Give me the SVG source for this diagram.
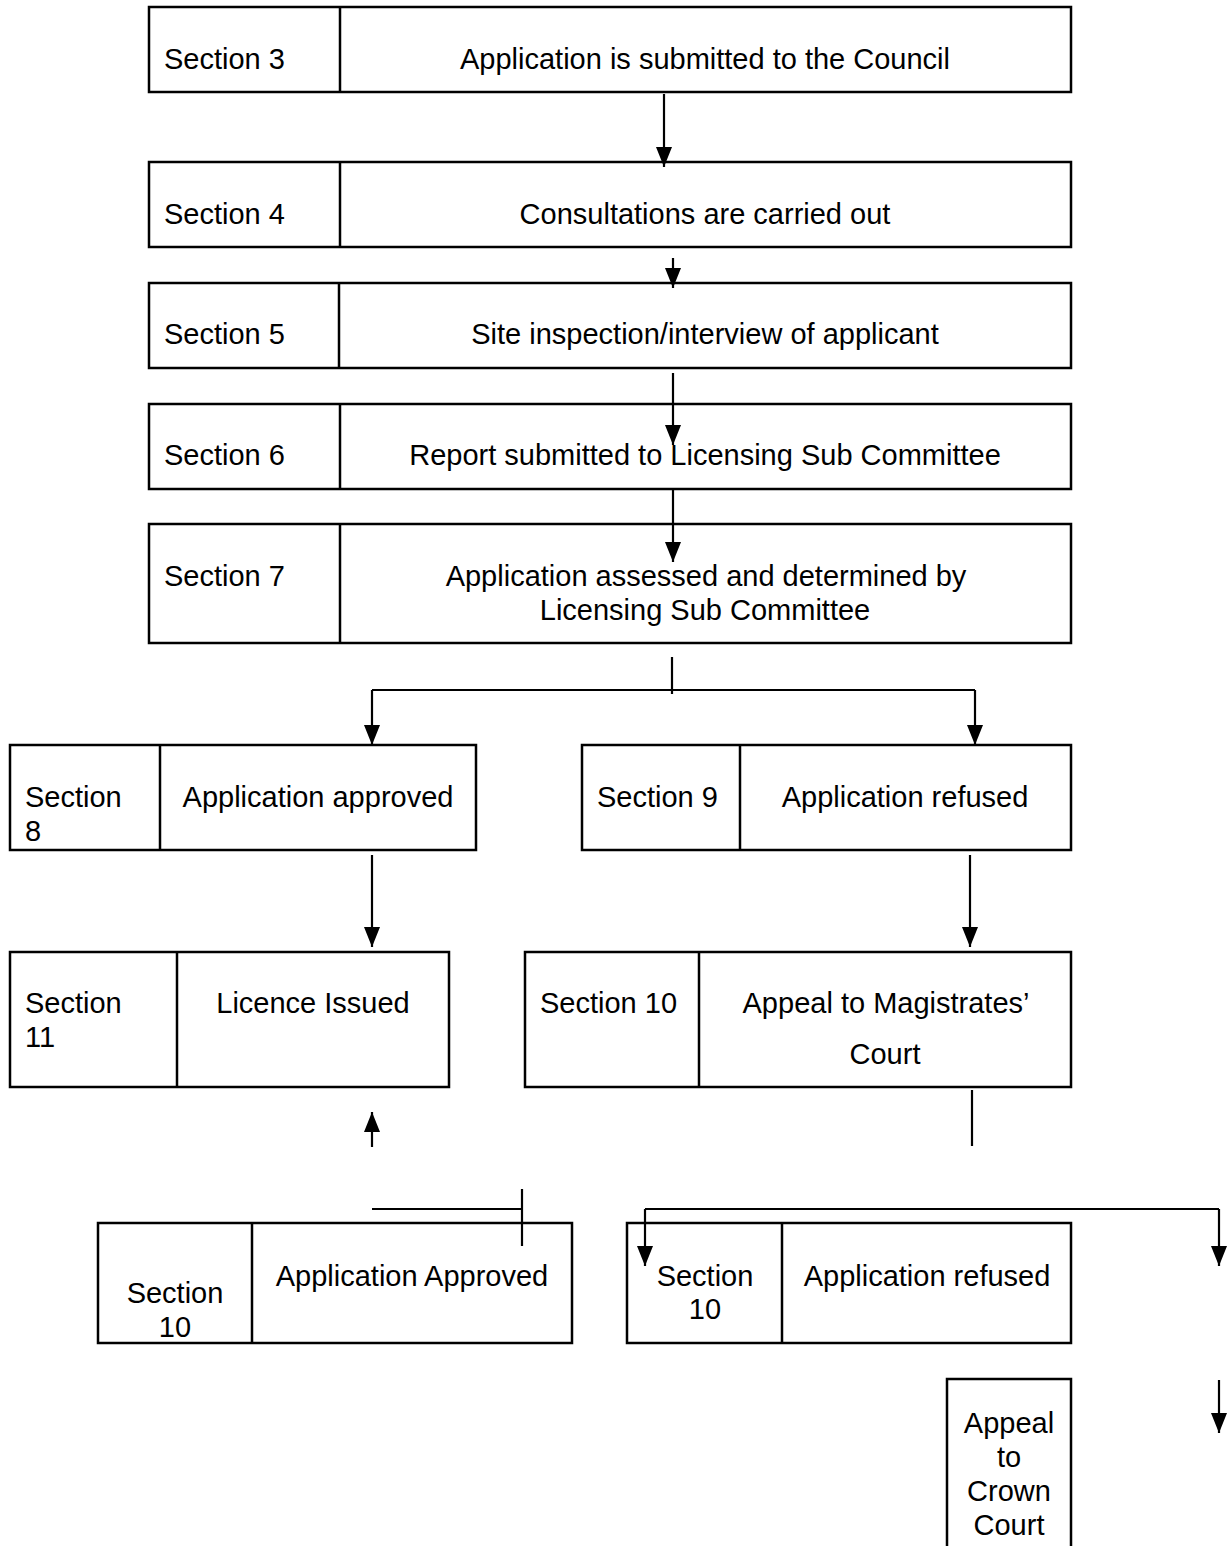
<svg xmlns="http://www.w3.org/2000/svg" width="1227" height="1546" viewBox="0 0 1227 1546">
<style>
rect.box{fill:#fff;stroke:#000;stroke-width:2.5}
line.div{stroke:#000;stroke-width:2.5}
text{font-family:"Liberation Sans",Arial,sans-serif;font-size:29px;fill:#000}
.c{text-anchor:middle}
#connectors line{stroke:#000;stroke-width:2.2}
</style>
<defs>
<marker id="ahd" viewBox="0 0 20 16" refX="20" refY="8" markerWidth="20" markerHeight="16" markerUnits="userSpaceOnUse" orient="auto">
<path d="M0,0 L20,8 L0,16 z" fill="#000"/>
</marker>
</defs>

<g id="n3">
<rect class="box" x="149" y="7" width="922" height="85"/>
<line class="div" x1="340" y1="7" x2="340" y2="92"/>
<text x="164" y="69">Section 3</text>
<text class="c" x="705" y="69">Application is submitted to the Council</text>
</g>

<g id="n4">
<rect class="box" x="149" y="162" width="922" height="85"/>
<line class="div" x1="340" y1="162" x2="340" y2="247"/>
<text x="164" y="224">Section 4</text>
<text class="c" x="705" y="224">Consultations are carried out</text>
</g>

<g id="n5">
<rect class="box" x="149" y="283" width="922" height="85"/>
<line class="div" x1="339" y1="283" x2="339" y2="368"/>
<text x="164" y="344">Section 5</text>
<text class="c" x="705" y="344">Site inspection/interview of applicant</text>
</g>

<g id="n6">
<rect class="box" x="149" y="404" width="922" height="85"/>
<line class="div" x1="340" y1="404" x2="340" y2="489"/>
<text x="164" y="465">Section 6</text>
<text class="c" x="705" y="465">Report submitted to Licensing Sub Committee</text>
</g>

<g id="n7">
<rect class="box" x="149" y="524" width="922" height="119"/>
<line class="div" x1="340" y1="524" x2="340" y2="643"/>
<text x="164" y="586">Section 7</text>
<text class="c" x="706" y="586">Application assessed and determined by</text>
<text class="c" x="705" y="620">Licensing Sub Committee</text>
</g>

<g id="n8">
<rect class="box" x="10" y="745" width="466" height="105"/>
<line class="div" x1="160" y1="745" x2="160" y2="850"/>
<text x="25" y="807">Section</text>
<text x="25" y="841">8</text>
<text class="c" x="318" y="807">Application approved</text>
</g>

<g id="n9">
<rect class="box" x="582" y="745" width="489" height="105"/>
<line class="div" x1="740" y1="745" x2="740" y2="850"/>
<text x="597" y="807">Section 9</text>
<text class="c" x="905" y="807">Application refused</text>
</g>

<g id="n11">
<rect class="box" x="10" y="952" width="439" height="135"/>
<line class="div" x1="177" y1="952" x2="177" y2="1087"/>
<text x="25" y="1013">Section</text>
<text x="25" y="1047">11</text>
<text class="c" x="313" y="1013">Licence Issued</text>
</g>

<g id="n10appeal">
<rect class="box" x="525" y="952" width="546" height="135"/>
<line class="div" x1="699" y1="952" x2="699" y2="1087"/>
<text x="540" y="1013">Section 10</text>
<text class="c" x="886" y="1013">Appeal to Magistrates’</text>
<text class="c" x="885" y="1064">Court</text>
</g>

<g id="n10approved">
<rect class="box" x="98" y="1223" width="474" height="120"/>
<line class="div" x1="252" y1="1223" x2="252" y2="1343"/>
<text class="c" x="175" y="1303">Section</text>
<text class="c" x="175" y="1337">10</text>
<text class="c" x="412" y="1286">Application Approved</text>
</g>

<g id="n10refused">
<rect class="box" x="627" y="1223" width="444" height="120"/>
<line class="div" x1="782" y1="1223" x2="782" y2="1343"/>
<text class="c" x="705" y="1286">Section</text>
<text class="c" x="705" y="1319">10</text>
<text class="c" x="927" y="1286">Application refused</text>
</g>

<g id="ncrown">
<rect class="box" x="947" y="1379" width="124" height="180"/>
<text class="c" x="1009" y="1433">Appeal</text>
<text class="c" x="1009" y="1467">to</text>
<text class="c" x="1009" y="1501">Crown</text>
<text class="c" x="1009" y="1535">Court</text>
</g>

<g id="connectors">
<line x1="664" y1="94" x2="664" y2="167" marker-end="url(#ahd)"/>
<line x1="673" y1="258" x2="673" y2="288" marker-end="url(#ahd)"/>
<line x1="673" y1="373" x2="673" y2="445" marker-end="url(#ahd)"/>
<line x1="673" y1="489" x2="673" y2="562" marker-end="url(#ahd)"/>
<line x1="672" y1="657" x2="672" y2="694"/>
<line x1="372" y1="690" x2="975" y2="690"/>
<line x1="372" y1="690" x2="372" y2="745" marker-end="url(#ahd)"/>
<line x1="975" y1="690" x2="975" y2="745" marker-end="url(#ahd)"/>
<line x1="372" y1="855" x2="372" y2="947" marker-end="url(#ahd)"/>
<line x1="970" y1="855" x2="970" y2="947" marker-end="url(#ahd)"/>
<line x1="372" y1="1147" x2="372" y2="1112" marker-end="url(#ahd)"/>
<line x1="372" y1="1209" x2="522" y2="1209"/>
<line x1="522" y1="1189" x2="522" y2="1246"/>
<line x1="972" y1="1090" x2="972" y2="1146"/>
<line x1="645" y1="1209" x2="1219" y2="1209"/>
<line x1="645" y1="1209" x2="645" y2="1266" marker-end="url(#ahd)"/>
<line x1="1219" y1="1209" x2="1219" y2="1266" marker-end="url(#ahd)"/>
<line x1="1219" y1="1380" x2="1219" y2="1433" marker-end="url(#ahd)"/>
</g>
</svg>
